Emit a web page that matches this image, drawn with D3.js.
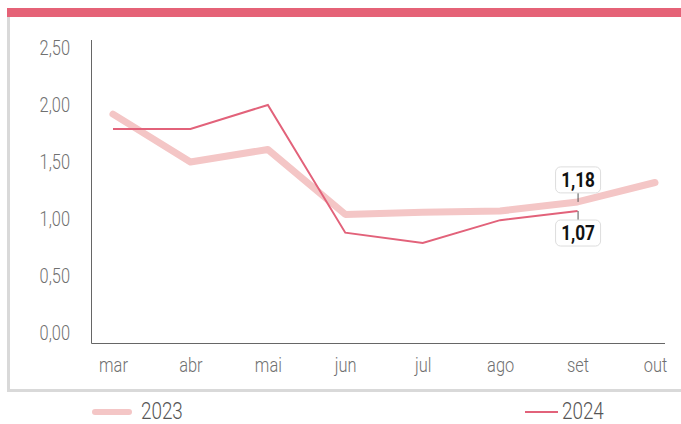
<!DOCTYPE html>
<html>
<head>
<meta charset="utf-8">
<script src="https://cdn.jsdelivr.net/npm/d3@7"></script>
<style>
  body { margin: 0; background: #fff; }
  text { font-family: Roboto, "DejaVu Sans Condensed", sans-serif; }
  .narrow { transform-box: fill-box; transform: scaleX(0.82); }
</style>
</head>
<body>
<div id="chart"></div>
<script>
//! DATA
const months = ['mar', 'abr', 'mai', 'jun', 'jul', 'ago', 'set', 'out'];
const values2023 = [1.92, 1.50, 1.61, 1.04, 1.06, 1.07, 1.15, 1.32];
const values2024 = [1.79, 1.79, 2.00, 0.88, 0.79, 0.99, 1.07];
const yTicks = [0, 0.5, 1, 1.5, 2, 2.5];
const callouts = [
  { month: 'set', series: '2023', text: '1,18' },
  { month: 'set', series: '2024', text: '1,07' }
];

//! CONSTS
const width = 681;
const height = 424;
const c2023 = '#f4c6c6';
const c2024 = '#e2627a';

const svg = d3.select('#chart')
  .append('svg')
  .attr('width', width)
  .attr('height', height);

// frame
svg.append('rect').attr('x', 7).attr('y', 8).attr('width', width - 7).attr('height', 9).attr('fill', '#e56277');
svg.append('rect').attr('x', 7).attr('y', 17).attr('width', 3).attr('height', 375).attr('fill', '#d9d9d9');
svg.append('rect').attr('x', 7).attr('y', 389).attr('width', width - 7).attr('height', 3).attr('fill', '#d9d9d9');

//! SCALES
const xScale = d3.scalePoint()
  .domain(months)
  .range([113, 655]);

const yScale = d3.scaleLinear()
  .domain([0, 2.5])
  .range([333, 48]);

//! AXES
const fmt = d => d3.format('.2f')(d).replace('.', ',');

const yAxis = svg.append('g')
  .attr('transform', 'translate(91,0)')
  .call(d3.axisLeft(yScale).tickValues(yTicks).tickFormat(fmt).tickSize(0).tickPadding(21));
yAxis.select('.domain').remove();
yAxis.selectAll('text')
  .attr('fill', '#707070').attr('font-size', 20).attr('font-weight', 300)
  .attr('class', 'narrow').style('transform-origin', 'right center');

svg.append('path')
  .attr('d', 'M91.5,40V343.5H665')
  .attr('fill', 'none')
  .attr('stroke', '#666')
  .attr('stroke-width', 1);

const xAxis = svg.append('g')
  .attr('transform', 'translate(0,343)')
  .call(d3.axisBottom(xScale).tickSize(0).tickPadding(15));
xAxis.select('.domain').remove();
xAxis.selectAll('text')
  .attr('fill', '#707070').attr('font-size', 20).attr('font-weight', 300)
  .attr('class', 'narrow').style('transform-origin', 'center');

//! LINES
const line = d3.line()
  .x((d, i) => xScale(months[i]))
  .y(d => yScale(d));

svg.append('path')
  .datum(values2023)
  .attr('d', line)
  .attr('fill', 'none')
  .attr('stroke', c2023)
  .attr('stroke-width', 7)
  .attr('stroke-linecap', 'round')
  .attr('stroke-linejoin', 'round');

svg.append('path')
  .datum(values2024)
  .attr('d', line)
  .attr('fill', 'none')
  .attr('stroke', c2024)
  .attr('stroke-width', 2);

//! CALLOUTS
callouts.forEach(c => {
  const i = months.indexOf(c.month);
  const v = c.series === '2023' ? values2023[i] : values2024[i];
  const x = xScale(c.month);
  const y = yScale(v);
  const up = c.series === '2023';
  const boxY = up ? y - 35 : y + 9;
  svg.append('line')
    .attr('x1', x + 0.5).attr('x2', x + 0.5)
    .attr('y1', up ? boxY + 26 : y).attr('y2', up ? y : boxY)
    .attr('stroke', '#555').attr('stroke-width', 1);
  svg.append('rect')
    .attr('x', x - 22).attr('y', boxY)
    .attr('width', 45).attr('height', 26)
    .attr('rx', 5)
    .attr('fill', '#fff')
    .attr('stroke', '#ddd');
  svg.append('text')
    .attr('x', x + 0.5).attr('y', boxY + 20)
    .attr('text-anchor', 'middle')
    .attr('font-size', 21)
    .attr('font-weight', 'bold')
    .attr('fill', '#111')
    .attr('class', 'narrow').style('transform-origin', 'center')
    .text(c.text);
});

//! LEGEND
const legend = [
  { name: '2023', color: c2023, w: 6, x: 95, len: 34 },
  { name: '2024', color: c2024, w: 2, x: 525, len: 33 }
];
legend.forEach(l => {
  svg.append('line')
    .attr('x1', l.x).attr('x2', l.x + l.len)
    .attr('y1', 412).attr('y2', 412)
    .attr('stroke', l.color).attr('stroke-width', l.w)
    .attr('stroke-linecap', l.w > 3 ? 'round' : 'butt');
  svg.append('text')
    .attr('x', l.x + l.len + (l.w > 3 ? 12 : 4)).attr('y', 419)
    .attr('font-size', 23)
    .attr('font-weight', 300)
    .attr('fill', '#555')
    .attr('class', 'narrow').style('transform-origin', 'left center')
    .text(l.name);
});
</script>
</body>
</html>
